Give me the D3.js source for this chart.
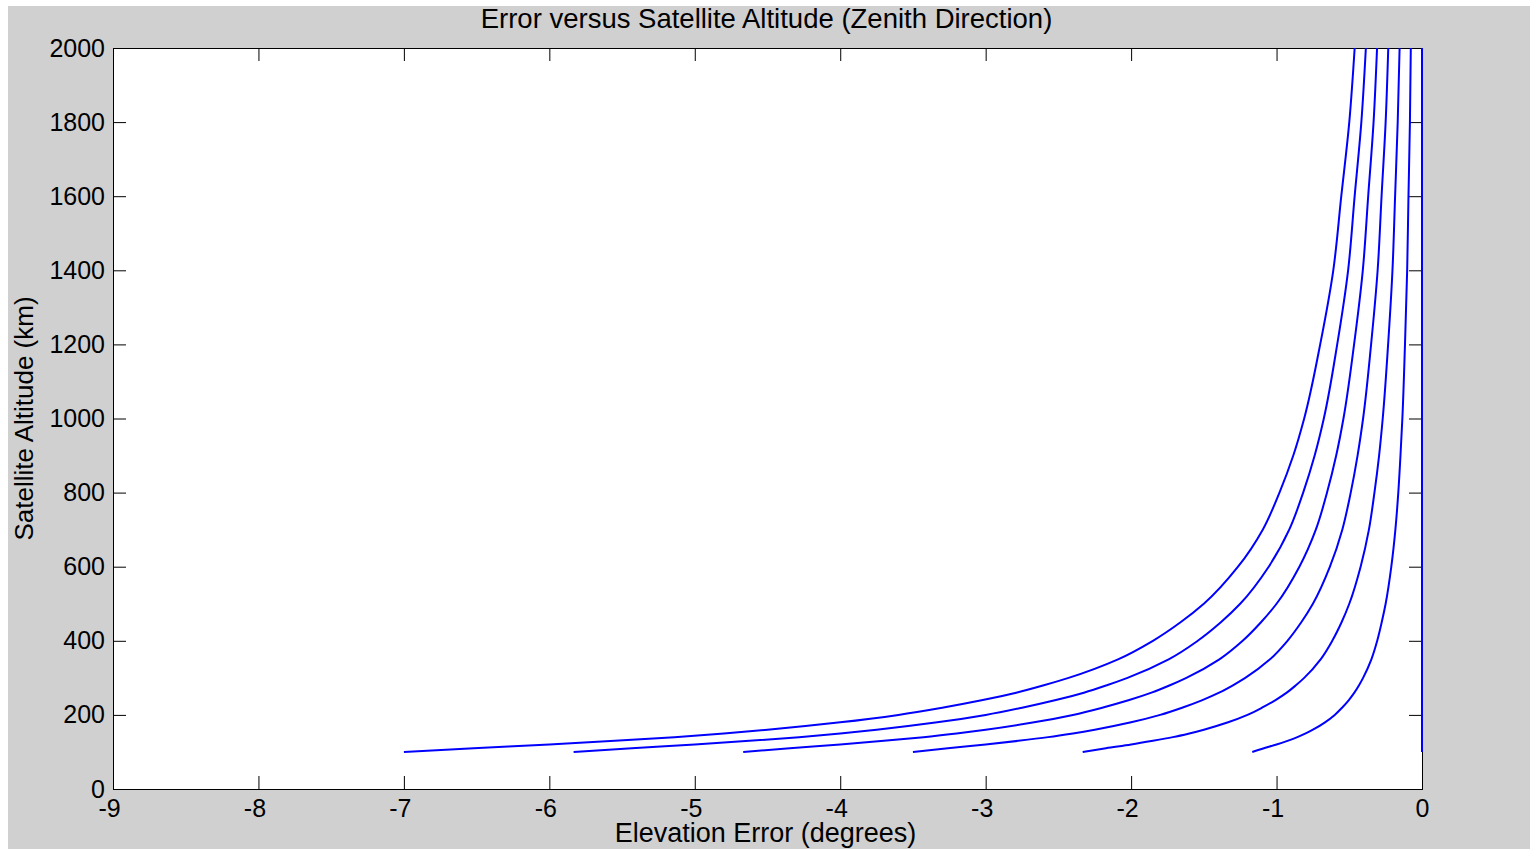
<!DOCTYPE html>
<html>
<head>
<meta charset="utf-8">
<script src="https://cdn.jsdelivr.net/npm/d3@7"></script>
<style>
  html, body { margin: 0; padding: 0; background: #ffffff; }
  svg { display: block; }
  text { font-family: "Liberation Sans", Arial, Helvetica, sans-serif; fill: #000; }
</style>
</head>
<body>
<svg id="chart" width="1530" height="849"></svg>
<script>
// ---- data ----
const title = "Error versus Satellite Altitude (Zenith Direction)";
const xLabel = "Elevation Error (degrees)";
const yLabel = "Satellite Altitude (km)";

const xTicks = [-9, -8, -7, -6, -5, -4, -3, -2, -1, 0];
const yTicks = [0, 200, 400, 600, 800, 1000, 1200, 1400, 1600, 1800, 2000];

const altitudes = [100, 110, 120, 130, 140, 150, 160, 180, 200, 220, 240, 260, 280, 300, 350, 400, 450, 500, 600, 700, 800, 900, 1000, 1200, 1400, 1600, 1800, 2000];

const errorSeries1 = [-7.00, -6.52, -6.00, -5.55, -5.14, -4.80, -4.50, -4.00, -3.60, -3.29, -3.02, -2.79, -2.60, -2.43, -2.09, -1.85, -1.66, -1.50, -1.265, -1.095, -0.98, -0.885, -0.81, -0.70, -0.61, -0.555, -0.50, -0.463];
const errorSeries2 = [-5.833, -5.433, -5.00, -4.625, -4.283, -4.00, -3.75, -3.333, -3.00, -2.742, -2.517, -2.325, -2.167, -2.025, -1.742, -1.542, -1.383, -1.25, -1.054, -0.913, -0.817, -0.738, -0.675, -0.583, -0.508, -0.463, -0.417, -0.386];
const errorSeries3 = [-4.667, -4.347, -4.00, -3.70, -3.427, -3.20, -3.00, -2.667, -2.40, -2.193, -2.013, -1.86, -1.733, -1.62, -1.393, -1.233, -1.107, -1.00, -0.843, -0.73, -0.653, -0.59, -0.54, -0.467, -0.407, -0.37, -0.333, -0.309];
const errorSeries4 = [-3.50, -3.26, -3.00, -2.775, -2.57, -2.40, -2.25, -2.00, -1.80, -1.645, -1.51, -1.395, -1.30, -1.215, -1.045, -0.925, -0.83, -0.75, -0.633, -0.548, -0.49, -0.443, -0.405, -0.35, -0.305, -0.278, -0.25, -0.232];
const errorSeries5 = [-2.333, -2.173, -2.00, -1.85, -1.713, -1.60, -1.50, -1.333, -1.20, -1.097, -1.007, -0.93, -0.867, -0.81, -0.697, -0.617, -0.553, -0.50, -0.422, -0.365, -0.327, -0.295, -0.27, -0.233, -0.203, -0.185, -0.167, -0.154];
const errorSeries6 = [-1.167, -1.087, -1.00, -0.925, -0.857, -0.80, -0.75, -0.667, -0.60, -0.548, -0.503, -0.465, -0.433, -0.405, -0.348, -0.308, -0.277, -0.25, -0.211, -0.183, -0.163, -0.148, -0.135, -0.117, -0.102, -0.093, -0.083, -0.077];
const errorSeries7 = [0, 0, 0, 0, 0, 0, 0, 0, 0, 0, 0, 0, 0, 0, 0, 0, 0, 0, 0, 0, 0, 0, 0, 0, 0, 0, 0, 0];

const allSeries = [errorSeries1, errorSeries2, errorSeries3, errorSeries4, errorSeries5, errorSeries6, errorSeries7];

// ---- layout ----
const W = 1530, H = 849;
const plot = { left: 113, right: 1422, top: 48, bottom: 789 };
const tickLen = 13;

const svg = d3.select("#chart");

// figure background
svg.append("rect").attr("x", 0).attr("y", 0).attr("width", W).attr("height", H).attr("fill", "#ffffff");
svg.append("rect").attr("x", 8).attr("y", 6).attr("width", W - 8).attr("height", H - 6).attr("fill", "#d0d0d0");

// axes background
svg.append("rect")
  .attr("x", plot.left).attr("y", plot.top)
  .attr("width", plot.right - plot.left).attr("height", plot.bottom - plot.top)
  .attr("fill", "#ffffff");

const x = d3.scaleLinear().domain([-9, 0]).range([plot.left, plot.right]);
const y = d3.scaleLinear().domain([0, 2000]).range([plot.bottom, plot.top]);

// clip
svg.append("clipPath").attr("id", "clip")
  .append("rect")
  .attr("x", plot.left - 1).attr("y", plot.top - 1)
  .attr("width", plot.right - plot.left + 2).attr("height", plot.bottom - plot.top + 2);

const line = d3.line()
  .x(d => x(d[0]))
  .y(d => y(d[1]))
  .curve(d3.curveMonotoneY);

// axes (inside ticks, on all four sides)
const fontSize = 25;
const fmt = d => String(d);   // plain hyphen-minus, as in the reference
const bottomAxis = d3.axisBottom(x).tickValues(xTicks).tickSizeInner(-tickLen).tickSizeOuter(0).tickPadding(10).tickFormat(fmt);
const topAxis = d3.axisTop(x).tickValues(xTicks).tickSizeInner(-tickLen).tickSizeOuter(0).tickFormat("");
const leftAxis = d3.axisLeft(y).tickValues(yTicks).tickSizeInner(-tickLen).tickSizeOuter(0).tickPadding(8).tickFormat(fmt);
const rightAxis = d3.axisRight(y).tickValues(yTicks).tickSizeInner(-tickLen).tickSizeOuter(0).tickFormat("");

function styleAxis(g) {
  g.select(".domain").remove();
  g.selectAll("line").attr("stroke", "#000").attr("stroke-width", 1);
  g.selectAll("text").style("font-size", fontSize + "px").style("font-family", '"Liberation Sans", Arial, sans-serif').attr("fill", "#000");
}

const gB = svg.append("g").attr("transform", `translate(0,${plot.bottom})`).call(bottomAxis).call(styleAxis);
gB.selectAll("text").attr("dx", d => d < 0 ? -4 : 0);
svg.append("g").attr("transform", `translate(0,${plot.top})`).call(topAxis).call(styleAxis);
svg.append("g").attr("transform", `translate(${plot.left},0)`).call(leftAxis).call(styleAxis);
svg.append("g").attr("transform", `translate(${plot.right},0)`).call(rightAxis).call(styleAxis);

// axis box
svg.append("rect")
  .attr("x", plot.left + 0.5).attr("y", plot.top + 0.5)
  .attr("width", plot.right - plot.left).attr("height", plot.bottom - plot.top)
  .attr("fill", "none").attr("stroke", "#000").attr("stroke-width", 1);

// lines (drawn above the box, as in the reference)
svg.append("g").attr("clip-path", "url(#clip)")
  .selectAll("path")
  .data(allSeries)
  .join("path")
  .attr("d", s => line(s.map((v, i) => [v, altitudes[i]])))
  .attr("fill", "none")
  .attr("stroke", "#0000ff")
  .attr("stroke-width", 2);

// labels
svg.append("text")
  .attr("x", (plot.left + plot.right) / 2 - 1).attr("y", 28)
  .attr("text-anchor", "middle")
  .style("font-size", "27.5px")
  .text(title);

svg.append("text")
  .attr("x", (plot.left + plot.right) / 2 - 2).attr("y", 842)
  .attr("text-anchor", "middle")
  .style("font-size", "27px")
  .text(xLabel);

svg.append("text")
  .attr("transform", `translate(33,${(plot.top + plot.bottom) / 2}) rotate(-90)`)
  .attr("text-anchor", "middle")
  .style("font-size", "26px")
  .text(yLabel);
</script>
</body>
</html>
